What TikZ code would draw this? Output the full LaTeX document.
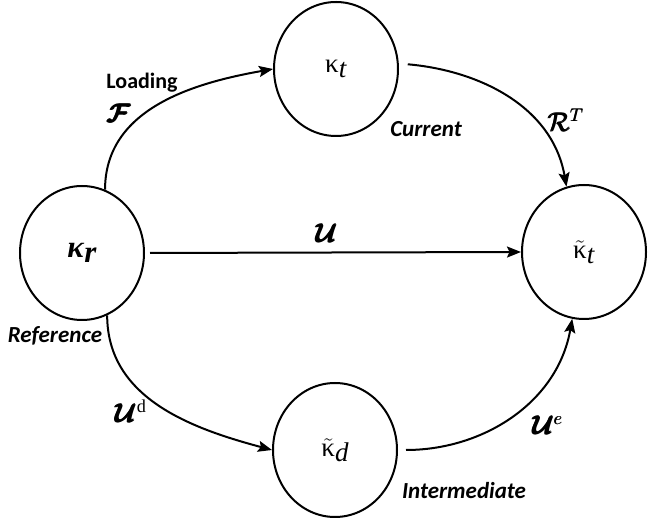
\RequirePackage{fix-cm}
\documentclass[tikz,border=0pt]{standalone}
\usepackage{amsmath,bm}
\usepackage{fontspec}
\setmainfont{Liberation Serif}
\newfontfamily\labelfont{Carlito}
\usetikzlibrary{shapes.geometric,arrows.meta}

% heavy calligraphic letters for the maps
\newcommand{\hcal}[1]{\pmb{\bm{\mathcal{#1}}}}

\begin{document}
\begin{tikzpicture}[x=1pt,y=1pt,
  state/.style={ellipse,draw,line width=2pt,minimum width=124pt,minimum height=134pt,inner sep=0pt},
  flow/.style={line width=2pt,-{Stealth[length=14pt,width=11pt,inset=2.5pt]}},
  word/.style={anchor=base,inner sep=0pt,font=\labelfont\bfseries\fontsize{22}{26}\selectfont},
  tag/.style={anchor=base,inner sep=0pt,font=\labelfont\bfseries\itshape\fontsize{23}{27}\selectfont},
  sym/.style={inner sep=0pt,font=\fontsize{26}{30}\selectfont},
  greek/.style={font=\fontsize{27}{31}\selectfont}]
\useasboundingbox (0,0) rectangle (648,522);

% configurations
\node[state,font=\fontsize{31}{35}\selectfont] (r) at (82,269)
  {\textbf{\textit{κ}}\raisebox{-0.35ex}{\textbf{\textit{r}}}};
\node[state,greek] (t)  at (336,453) {κ\raisebox{-0.35ex}{\textit{t}}};
\node[state,greek] (tt) at (584,270) {$\tilde{\mbox{κ}}$\raisebox{-0.35ex}{\textit{t}}};
\node[state,greek] (d)  at (335,72)  {$\tilde{\mbox{κ}}$\raisebox{-0.35ex}{\textit{d}}};

% maps between configurations
\draw[flow] (r.70) to[out=90,in=190] (t.west);
\draw[flow,shorten <=9pt] (t.5) to[out=-5,in=100] (tt.105);
\draw[flow,shorten <=5pt] (r.east) -- (tt.west);
\draw[flow] (r.-68) to[out=-90,in=165] (d.west);
\draw[flow,shorten <=8pt] (d.east) to[out=0,in=260] (tt.-100);

% labels
\node[word] (lload) at (142,433) {Loading};
\node[sym]  (lF)    at (119,409) {$\hcal{F}$};
\node[tag]  (lcur)  at (426,385) {Current};
\node[sym]  (lR)    at (566,402) {$\pmb{\mathcal{R}}^{\pmb{T}}$};
\node[sym]  (lU)    at (327,289) {$\hcal{U}$};
\node[tag]  (lref)  at (55,179)  {Reference};
\node[sym]  (lUd)   at (131,111) {$\hcal{U}^{\mathrm{d}}$};
\node[sym]  (lUe)   at (548,97)  {$\hcal{U}^{\pmb{e}}$};
\node[tag]  (lint)  at (464,23)  {Intermediate};
\end{tikzpicture}
\end{document}
